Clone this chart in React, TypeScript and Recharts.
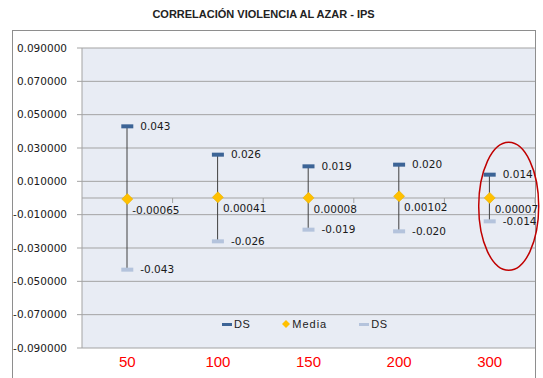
import React from 'react';
import { ComposedChart, Bar, Line, XAxis, YAxis, CartesianGrid, ReferenceLine, ReferenceDot, LabelList, Legend } from 'recharts';

const categories = ['50', '100', '150', '200', '300'];
const dsUpper = [0.043, 0.026, 0.019, 0.02, 0.014];
const media = [-0.00065, 0.00041, 0.00008, 0.00102, 0.00007];
const dsLower = [-0.043, -0.026, -0.019, -0.02, -0.014];
const yTicks = [-0.09, -0.07, -0.05, -0.03, -0.01, 0.01, 0.03, 0.05, 0.07, 0.09];

const data = categories.map((cat, i) => ({
  cat,
  upper: dsUpper[i],
  media: media[i],
  lower: dsLower[i],
  range: [dsLower[i], dsUpper[i]],
}));

const DARK = '#3C6496';
const LIGHT = '#B4C3DC';
const GOLD = '#FFC000';
const GRID = '#A3A3A3';
const labelFont = { fontFamily: 'DejaVu Sans', fontSize: 10.5, fill: '#1a1a1a' };

function Dash({ cx, cy, color }: any) {
  if (cx == null || cy == null) return null;
  return <rect x={cx - 6} y={cy - 2} width={12} height={4} fill={color} />;
}

function Diamond({ cx, cy }: any) {
  if (cx == null || cy == null) return null;
  const r = 5.5;
  return <path d={`M${cx},${cy - r}L${cx + r},${cy}L${cx},${cy + r}L${cx - r},${cy}Z`} fill={GOLD} stroke="#E8B000" strokeWidth={0.6} />;
}

function HighLow(props: any) {
  const { x, y, width, height } = props;
  const cx = x + width / 2;
  return <line x1={cx} x2={cx} y1={y} y2={y + height} stroke="#404040" strokeWidth={1} />;
}

function ZeroAxis(props: any) {
  const { x1, x2, y1 } = props;
  const step = (x2 - x1) / categories.length;
  return (
    <g>
      <line x1={x1} x2={x2} y1={y1} y2={y1} stroke={GRID} strokeWidth={1} />
      {categories.map((c, i) => (
        <line key={c} x1={x1 + step * (i + 1)} x2={x1 + step * (i + 1)} y1={y1} y2={y1 + 5} stroke={GRID} strokeWidth={1} />
      ))}
    </g>
  );
}

function MediaLabel(props: any) {
  const { x, y, value } = props;
  return (
    <text x={x + 5} y={y + 12} dominantBaseline="middle" {...labelFont}>
      {Number(value).toFixed(5)}
    </text>
  );
}

function Ellipse({ cx, cy }: any) {
  if (cx == null || cy == null) return null;
  return <ellipse cx={cx + 19} cy={cy} rx={30} ry={64} fill="none" stroke="#C00000" strokeWidth={1.5} />;
}

function LegendContent() {
  const item = { display: 'flex', alignItems: 'center', marginRight: 32 } as const;
  const txt = { fontFamily: 'Liberation Sans', fontSize: 11, color: '#222', marginLeft: 2, letterSpacing: 0.5 } as const;
  return (
    <div style={{ display: 'flex', alignItems: 'center' }}>
      <div style={item}>
        <span style={{ width: 10, height: 3, background: DARK, display: 'inline-block' }} />
        <span style={txt}>DS</span>
      </div>
      <div style={item}>
        <svg width={8} height={8}><path d="M4,0L8,4L4,8L0,4Z" fill={GOLD} /></svg>
        <span style={{ ...txt, letterSpacing: 1 }}>Media</span>
      </div>
      <div style={item}>
        <span style={{ width: 10, height: 3, background: LIGHT, display: 'inline-block' }} />
        <span style={txt}>DS</span>
      </div>
    </div>
  );
}

export default function App() {
  return (
    <div style={{ position: 'absolute', left: 0, top: 0, width: 543, height: 378, background: '#fff', overflow: 'hidden' }}>
      <div style={{ position: 'absolute', left: 0, top: 8, width: 527, textAlign: 'center', fontFamily: 'Liberation Sans', fontWeight: 'bold', fontSize: 11, color: '#222' }}>
        CORRELACIÓN VIOLENCIA AL AZAR - IPS
      </div>
      <div style={{ position: 'absolute', left: 12, top: 30, width: 522, height: 360, border: '1px solid #8E8E8E' }} />
      <div style={{ position: 'absolute', left: 0, top: 0 }}>
        <ComposedChart width={543} height={378} data={data} margin={{ top: 48, right: 8, bottom: 0, left: 0 }}>
          <CartesianGrid vertical={false} horizontalValues={yTicks} stroke={GRID} fill="#E8ECF4" strokeOpacity={1} />
          <XAxis dataKey="cat" height={30} axisLine={false} tickLine={false} tick={{ fill: '#FF0000', fontSize: 15, fontFamily: 'Liberation Sans' }} />
          <YAxis
            type="number"
            domain={[-0.09, 0.09]}
            ticks={yTicks}
            width={82}
            tickFormatter={(v: number) => v.toFixed(6)}
            stroke={GRID}
            tickSize={5}
            tickMargin={10}
            tick={{ fill: '#1a1a1a', fontSize: 10.5, fontFamily: 'DejaVu Sans' }}
            interval={0}
          />
          <ReferenceLine y={0} shape={ZeroAxis} />
          <Legend layout="horizontal" verticalAlign="middle" align="center" content={LegendContent} wrapperStyle={{ position: 'absolute', left: 222, top: 318, width: 220 }} />
          <Bar dataKey="range" barSize={10} shape={HighLow} isAnimationActive={false} legendType="none" />
          <Line dataKey="upper" name="DS" stroke="none" dot={(p: any) => <Dash key={`u${p.index}`} {...p} color={DARK} />} activeDot={false} isAnimationActive={false}>
            <LabelList dataKey="upper" position="right" offset={13} formatter={(v: any) => Number(v).toFixed(3)} style={labelFont} />
          </Line>
          <Line dataKey="media" name="Media" stroke="none" dot={(p: any) => <Diamond key={`m${p.index}`} {...p} />} activeDot={false} isAnimationActive={false}>
            <LabelList dataKey="media" content={MediaLabel} />
          </Line>
          <Line dataKey="lower" name="DS" stroke="none" dot={(p: any) => <Dash key={`l${p.index}`} {...p} color={LIGHT} />} activeDot={false} isAnimationActive={false}>
            <LabelList dataKey="lower" position="right" offset={13} formatter={(v: any) => Number(v).toFixed(3)} style={labelFont} />
          </Line>
          <ReferenceDot x="300" y={-0.005} ifOverflow="visible" shape={Ellipse} />
        </ComposedChart>
      </div>
    </div>
  );
}
